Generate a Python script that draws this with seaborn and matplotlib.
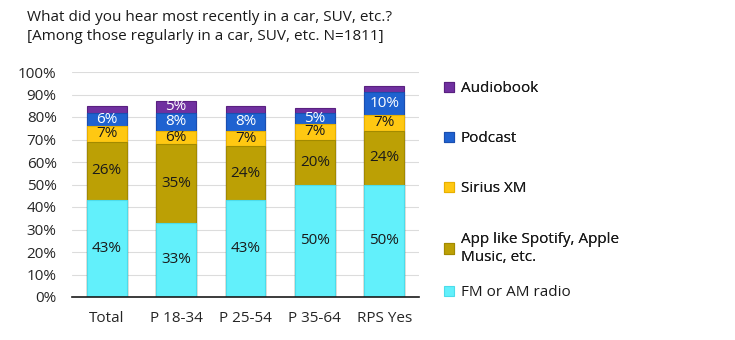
import matplotlib
matplotlib.use("Agg")
import matplotlib.pyplot as plt
import seaborn as sns
import pandas as pd
import numpy as np
from matplotlib.patches import Patch

# ---- data ----
categories = ["Total", "P 18-34", "P 25-54", "P 35-64", "RPS Yes"]
fm_am = [43, 33, 43, 50, 50]
app = [26, 35, 24, 20, 24]
sirius = [7, 6, 7, 7, 7]
podcast = [6, 8, 8, 5, 10]
audiobook = [3, 5, 3, 2, 3]
series_names = ["FM or AM radio", "App like Spotify, Apple\nMusic, etc.",
                "Sirius XM", "Podcast", "Audiobook"]
y_ticks = list(range(0, 101, 10))
title = "What did you hear most recently in a car, SUV, etc.?\n[Among those regularly in a car, SUV, etc. N=1811]"

# ---- style ----
colors = ["#62F0FB", "#BCA005", "#FFC812", "#1F62D0", "#7030A0"]
edges = ["#4CDCEA", "#A28A00", "#E8B000", "#1A4FB0", "#5A2080"]
text_colors = ["#1a1a1a", "#1a1a1a", "#1a1a1a", "white", "white"]
FS = 11

sns.set_theme(style="white")
plt.rcParams["font.family"] = ["Open Sans", "DejaVu Sans"]
plt.rcParams["text.color"] = "#1a1a1a"

fig = plt.figure(figsize=(7.35, 3.4), dpi=100)
ax = fig.add_axes([72 / 735, 1 - 297 / 340, 347 / 735, 225 / 340])

series = [fm_am, app, sirius, podcast, audiobook]
cum = np.cumsum(np.array(series, dtype=float), axis=0)

for i in reversed(range(len(series))):
    df = pd.DataFrame({"category": categories, "value": cum[i]})
    sns.barplot(data=df, x="category", y="value", color=colors[i],
                saturation=1, width=0.575, edgecolor=edges[i], linewidth=0.8,
                ax=ax, zorder=2)

for i, vals in enumerate(series):
    base = cum[i] - np.array(vals)
    for j, v in enumerate(vals):
        if v >= 4:
            ax.text(j, base[j] + v / 2, f"{v}%", ha="center", va="center",
                    fontsize=FS, color=text_colors[i], zorder=3)

ax.set_ylim(0, 100)
ax.set_xlim(-0.5, len(categories) - 0.5)
ax.set_yticks(y_ticks)
ax.set_yticklabels([f"{t}%" for t in y_ticks], fontsize=FS)
ax.tick_params(axis="x", labelsize=FS, length=0, pad=10)
ax.tick_params(axis="y", length=0, pad=11)
ax.set_xlabel("")
ax.set_ylabel("")
ax.set_axisbelow(True)
ax.yaxis.grid(True, color="#DCDCDC", linewidth=0.8)
for s in ["left", "right", "top"]:
    ax.spines[s].set_visible(False)
ax.spines["bottom"].set_color("#1a1a1a")
ax.spines["bottom"].set_linewidth(1.2)
ax.spines["bottom"].set_zorder(4)

fig.text(27 / 735, 1 - 10 / 340, title, ha="left", va="top", fontsize=FS,
         linespacing=1.4)

handles = [Patch(facecolor=colors[i], edgecolor=edges[i], linewidth=0.8,
                 label=series_names[i]) for i in reversed(range(len(series)))]
leg1 = fig.legend(handles=handles[:4], loc="upper left",
                  bbox_to_anchor=(438 / 735, 1 - 75 / 340), frameon=False,
                  fontsize=FS, labelspacing=2.3, handlelength=0.65,
                  handleheight=0.65, handletextpad=0.45, borderaxespad=0)
for t in leg1.get_texts():
    t.set_linespacing(1.35)
fig.legend(handles=handles[4:], loc="upper left",
           bbox_to_anchor=(438 / 735, 1 - 279 / 340), frameon=False,
           fontsize=FS, handlelength=0.65, handleheight=0.65,
           handletextpad=0.45, borderaxespad=0)
fig.add_artist(leg1)

fig.savefig("out.png", dpi=100)
